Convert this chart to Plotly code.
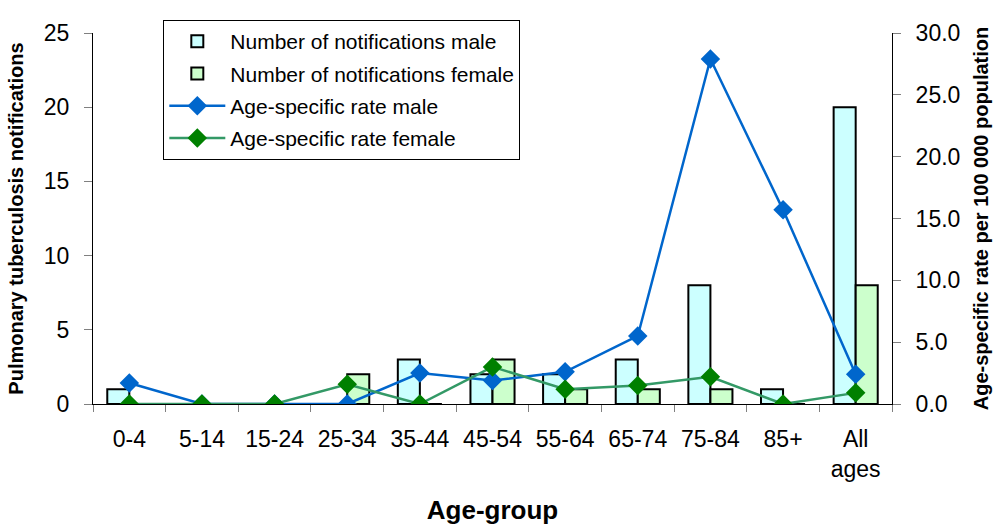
import plotly.graph_objects as go

# Age groups and notification data
age_groups = ["0-4", "5-14", "15-24", "25-34", "35-44", "45-54",
              "55-64", "65-74", "75-84", "85+", "All<br>ages"]
notif_male = [1, 0, 0, 0, 3, 2, 2, 3, 8, 1, 20]
notif_female = [0, 0, 0, 2, 0, 3, 1, 1, 1, 0, 8]
rate_male = [1.7, 0.0, 0.0, 0.0, 2.5, 1.9, 2.6, 5.5, 27.9, 15.7, 2.4]
rate_female = [0.0, 0.0, 0.0, 1.6, 0.0, 3.0, 1.2, 1.5, 2.2, 0.0, 0.9]

FONT = "Liberation Sans, Arial, sans-serif"

fig = go.Figure()

fig.add_trace(go.Bar(
    x=age_groups, y=notif_male, name="Number of notifications male",
    marker=dict(color="#CCFFFF", line=dict(color="black", width=2)),
    legendgroup="a", yaxis="y",
))
fig.add_trace(go.Bar(
    x=age_groups, y=notif_female, name="Number of notifications female",
    marker=dict(color="#CCFFCC", line=dict(color="black", width=2)),
    legendgroup="b", yaxis="y",
))
fig.add_trace(go.Scatter(
    x=age_groups, y=rate_male, name="Age-specific rate male",
    mode="lines+markers",
    line=dict(color="#0066CC", width=2.5),
    marker=dict(symbol="diamond", size=15, color="#0066CC"),
    legendgroup="c", yaxis="y2",
))
fig.add_trace(go.Scatter(
    x=age_groups, y=rate_female, name="Age-specific rate female",
    mode="lines+markers",
    line=dict(color="#339966", width=2.5),
    marker=dict(symbol="diamond", size=15, color="#008000"),
    legendgroup="d", yaxis="y2",
))

fig.update_layout(
    width=996, height=526,
    margin=dict(l=93, r=104, t=33, b=122),
    paper_bgcolor="white", plot_bgcolor="white",
    font=dict(family=FONT, size=23, color="black"),
    barmode="group", bargap=0.393, bargroupgap=0,
    showlegend=True,
    legend=dict(
        x=0.088, y=1.035, xanchor="left", yanchor="top",
        bgcolor="white", bordercolor="black", borderwidth=1,
        font=dict(family=FONT, size=21, color="black"),
        tracegroupgap=2, itemwidth=56,
    ),
    xaxis=dict(
        title=dict(text="<b>Age-group</b>", font=dict(size=26), standoff=20),
        range=[-0.5, len(age_groups) - 0.5], automargin=False,
        showline=True, linecolor="black", linewidth=1,
        ticks="outside", tickson="boundaries", ticklen=7, tickcolor="#808080",
        ticklabelstandoff=14, showgrid=False,
    ),
    yaxis=dict(
        title=dict(text="<b>Pulmonary tuberculosis notifications</b>",
                   font=dict(size=20), standoff=14),
        range=[0, 25], dtick=5, automargin=False,
        showline=True, linecolor="black", linewidth=1,
        ticks="outside", ticklen=8, tickcolor="#808080",
        ticklabelstandoff=10, showgrid=False, zeroline=False,
    ),
    yaxis2=dict(
        title=dict(text="<b>Age-specific rate per 100 000 population</b>",
                   font=dict(size=20), standoff=14),
        range=[0, 30], dtick=5, tickformat=".1f", automargin=False,
        overlaying="y", side="right",
        showline=True, linecolor="black", linewidth=1,
        ticks="outside", ticklen=8, tickcolor="#808080",
        ticklabelstandoff=10, showgrid=False, zeroline=False,
    ),
)

fig.write_html("out.html")
